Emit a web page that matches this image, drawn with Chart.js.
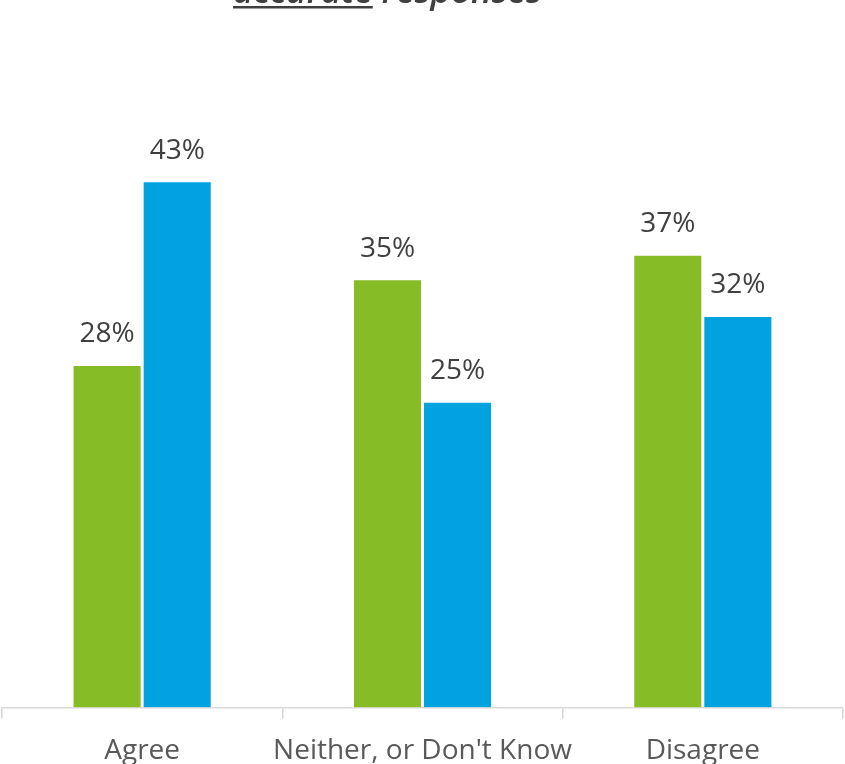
<!DOCTYPE html>
<html>
<head>
<meta charset="utf-8">
<script src="https://cdn.jsdelivr.net/npm/chart.js@4"></script>
<style>
  html, body { margin: 0; padding: 0; background: #fff; }
  #wrap { width: 845px; height: 764px; overflow: hidden; }
</style>
</head>
<body>
<div id="wrap"><canvas id="chart" width="845" height="764"></canvas></div>
<script>
const categories = ["Agree", "Neither, or Don't Know", "Disagree"];
const seriesA = [28, 35, 37];
const seriesB = [43, 25, 32];
const titleWords = ["accurate", "responses"];

// title is cut off at the top of the picture, only its lower part shows
const titlePlugin = {
    id: "cutTitle",
    afterDraw(chart) {
        const ctx = chart.ctx;
        ctx.save();
        ctx.font = "italic 600 35px 'Open Sans'";
        ctx.fillStyle = "#404040";
        ctx.textBaseline = "alphabetic";
        let x = 233;
        const y = 3;
        const w1 = ctx.measureText(titleWords[0]).width;
        ctx.fillText(titleWords[0], x, y);
        ctx.fillRect(x, 6, w1, 2.5);
        x += w1 + ctx.measureText(" ").width;
        ctx.fillText(titleWords[1], x, y);
        ctx.restore();
    }
};

const valueLabels = {
    id: "valueLabels",
    afterDatasetsDraw(chart) {
        const ctx = chart.ctx;
        ctx.save();
        ctx.font = "28px 'Open Sans'";
        ctx.fillStyle = "#404040";
        ctx.textAlign = "center";
        ctx.textBaseline = "middle";
        chart.data.datasets.forEach((ds, i) => {
            chart.getDatasetMeta(i).data.forEach((bar, j) => {
                ctx.fillText(ds.data[j] + "%", bar.x, bar.y - 30);
            });
        });
        ctx.restore();
    }
};

new Chart(document.getElementById("chart"), {
    type: "bar",
    data: {
        labels: categories,
        datasets: [
            { data: seriesA, backgroundColor: "#86BC25", borderColor: "#fff", borderWidth: 1.5, borderSkipped: "bottom" },
            { data: seriesB, backgroundColor: "#00A3E0", borderColor: "#fff", borderWidth: 1.5, borderSkipped: "bottom" }
        ]
    },
    options: {
        responsive: false,
        animation: false,
        layout: { padding: { top: 95, left: 2, right: 2, bottom: -20 } },
        categoryPercentage: 0.5,
        barPercentage: 1,
        plugins: {
            legend: { display: false },
            tooltip: { enabled: false }
        },
        scales: {
            x: {
                offset: true,
                grid: { display: true, drawOnChartArea: false, drawTicks: true, tickLength: 11, color: "#d4d4d4", lineWidth: 1.5, offset: true },
                border: { display: true, color: "#d9d9d9", width: 1.5 },
                ticks: { color: "#595959", font: { family: "'Open Sans'", size: 28 }, padding: 16, maxRotation: 0, autoSkip: false }
            },
            y: {
                display: false,
                min: 0,
                max: 50
            }
        }
    },
    plugins: [titlePlugin, valueLabels]
});
</script>
</body>
</html>
